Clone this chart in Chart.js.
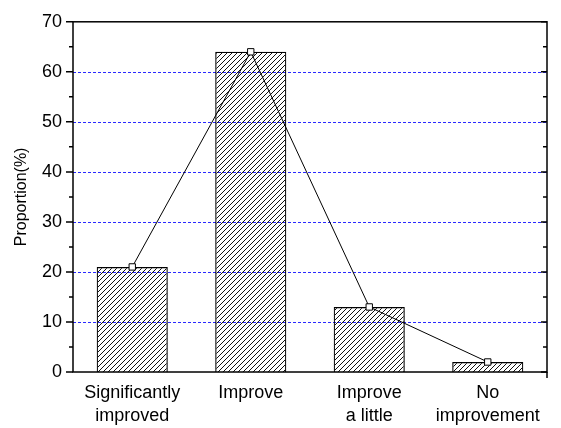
<!DOCTYPE html>
<html>
<head>
<meta charset="utf-8">
<script src="https://cdn.jsdelivr.net/npm/chart.js@4"></script>
<style>
    html, body { margin: 0; padding: 0; background: #fff; }
    #wrap { width: 561px; height: 428px; }
</style>
</head>
<body>
<div id="wrap"><canvas id="chart"></canvas></div>
<script>
const categories = [['Significantly', 'improved'], 'Improve', ['Improve', 'a little'], ['No', 'improvement']];
const proportions = [21, 64, 13, 2];
const yTicks = [0, 10, 20, 30, 40, 50, 60, 70];
const yMinorTicks = [5, 15, 25, 35, 45, 55, 65];

// diagonal hatch fill for the bars
function makeHatch() {
    const c = document.createElement('canvas');
    c.width = 5; c.height = 5;
    const g = c.getContext('2d');
    g.strokeStyle = '#111';
    g.lineWidth = 1;
    g.beginPath();
    g.moveTo(-1, 6); g.lineTo(6, -1);
    g.moveTo(-1, 1); g.lineTo(1, -1);
    g.moveTo(4, 6); g.lineTo(6, 4);
    g.stroke();
    return g.createPattern(c, 'repeat');
}

// blue dotted grid behind the bars
const gridPlugin = {
    id: 'blueGrid',
    beforeDatasetsDraw(chart) {
        const ctx = chart.ctx;
        const a = chart.chartArea;
        const y = chart.scales.y;
        ctx.save();
        ctx.strokeStyle = '#2a2aff';
        ctx.lineWidth = 1;
        ctx.setLineDash([3, 2]);
        ctx.beginPath();
        yTicks.slice(1, -1).forEach(v => {
            const p = Math.round(y.getPixelForValue(v)) + 0.5;
            ctx.moveTo(a.left, p); ctx.lineTo(a.right, p);
        });
        ctx.stroke();
        ctx.restore();
    }
};

// box frame plus outward/inward tick marks
const framePlugin = {
    id: 'frame',
    afterDraw(chart) {
        const ctx = chart.ctx;
        const a = chart.chartArea;
        const y = chart.scales.y;
        ctx.save();
        ctx.strokeStyle = '#000';
        ctx.lineWidth = 1.5;
        ctx.strokeRect(a.left, a.top, a.right - a.left, a.bottom - a.top);
        ctx.beginPath();
        ctx.moveTo(a.left - 7, a.bottom); ctx.lineTo(a.left, a.bottom);
        yTicks.forEach(v => {
            const p = y.getPixelForValue(v);
            ctx.moveTo(a.left - 7, p); ctx.lineTo(a.left, p);
            ctx.moveTo(a.right - 6, p); ctx.lineTo(a.right, p);
        });
        yMinorTicks.forEach(v => {
            const p = y.getPixelForValue(v);
            ctx.moveTo(a.left - 4, p); ctx.lineTo(a.left, p);
            ctx.moveTo(a.right - 4, p); ctx.lineTo(a.right, p);
        });
        ctx.moveTo(a.right, a.bottom); ctx.lineTo(a.right, a.bottom + 6);
        ctx.stroke();
        ctx.restore();
    }
};

const ctx = document.getElementById('chart').getContext('2d');
new Chart(ctx, {
    data: {
        labels: categories,
        datasets: [{
            type: 'line',
            data: proportions,
            order: 0,
            borderColor: '#000',
            borderWidth: 1,
            tension: 0,
            pointStyle: 'rect',
            pointRadius: 4.5,
            pointBackgroundColor: '#fff',
            pointBorderColor: '#000',
            pointBorderWidth: 1
        }, {
            type: 'bar',
            data: proportions,
            order: 1,
            backgroundColor: makeHatch(),
            borderColor: '#000',
            borderWidth: 1.2,
            barPercentage: 0.6,
            categoryPercentage: 1
        }]
    },
    options: {
        responsive: true,
        maintainAspectRatio: false,
        animation: false,
        layout: { padding: { left: 0, right: 14, top: 19, bottom: 0 } },
        plugins: { legend: { display: false }, tooltip: { enabled: false } },
        scales: {
            x: {
                grid: { display: false, drawTicks: false },
                border: { display: false },
                ticks: {
                    color: '#000',
                    padding: 9,
                    maxRotation: 0,
                    autoSkip: false,
                    font: { family: 'Liberation Sans, Arial', size: 18, lineHeight: 1.3 }
                },
                afterFit(scale) { scale.height = 56; }
            },
            y: {
                min: 0,
                max: 70,
                ticks: {
                    stepSize: 10,
                    color: '#000',
                    padding: 11,
                    font: { family: 'Liberation Sans, Arial', size: 18 }
                },
                grid: { display: false, drawTicks: false },
                border: { display: false },
                title: {
                    display: true,
                    text: 'Proportion(%)',
                    color: '#000',
                    padding: { top: 12, bottom: 0 },
                    font: { family: 'Liberation Sans, Arial', size: 16 }
                },
                afterFit(scale) { scale.width = 73; }
            }
        }
    },
    plugins: [gridPlugin, framePlugin]
});
</script>
</body>
</html>
